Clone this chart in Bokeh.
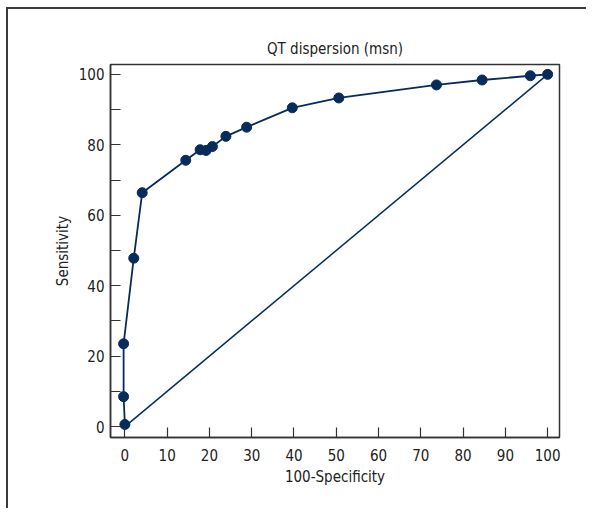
from bokeh.plotting import figure
from bokeh.models import Range1d, FixedTicker
from bokeh.embed import file_html
from bokeh.resources import INLINE

# ROC curve data (100-Specificity, Sensitivity)
fpr = [0.0, -0.3, -0.3, 2.1, 4.1, 14.4, 17.8, 19.2, 20.7, 23.9, 28.8, 39.6, 50.6, 73.7, 84.5, 95.9, 100.0]
tpr = [0.6, 8.5, 23.5, 47.8, 66.4, 75.6, 78.6, 78.4, 79.5, 82.4, 85.0, 90.5, 93.3, 97.0, 98.4, 99.6, 100.0]
diag_x = [0, 100]
diag_y = [0, 100]

x_ticks = [0, 10, 20, 30, 40, 50, 60, 70, 80, 90, 100]
y_ticks = [0, 20, 40, 60, 80, 100]
y_minor = [10, 30, 50, 70, 90]

FONT = "DejaVu Sans Condensed"
NAVY = "#072b5b"
AX = "#333333"

p = figure(width=586, height=508, output_backend="svg", toolbar_location=None,
           x_range=Range1d(-3.4, 102.8), y_range=Range1d(-3.1, 102.8),
           min_border_left=110, min_border_right=27, min_border_top=64, min_border_bottom=71,
           title="QT dispersion (msn)")
p.border_fill_color = None
p.background_fill_color = "#ffffff"
p.styles = {"background-color": "#ffffff",
            "box-shadow": "inset 6px 7px 0 0 #ffffff, inset 8px 9px 0 0 #3a3a3a"}

p.title.align = "center"
p.title.text_font = FONT
p.title.text_font_size = "15px"
p.title.text_font_style = "normal"
p.title.text_color = "#222222"
p.title.standoff = 13

p.grid.visible = False
p.outline_line_color = AX
p.outline_line_width = 1.5
p.outline_line_alpha = 1.0

for ax in (p.xaxis[0], p.yaxis[0]):
    ax.axis_line_color = AX
    ax.axis_line_width = 1.5
    ax.major_tick_line_color = AX
    ax.minor_tick_line_color = AX
    ax.major_tick_line_width = 1.2
    ax.minor_tick_line_width = 1.2
    ax.major_tick_in = 10
    ax.major_tick_out = 0
    ax.minor_tick_in = 10
    ax.minor_tick_out = 0
    ax.major_label_text_font = FONT
    ax.major_label_text_font_size = "15px"
    ax.major_label_text_color = "#222222"
    ax.axis_label_text_font = FONT
    ax.axis_label_text_font_size = "15px"
    ax.axis_label_text_font_style = "normal"
    ax.axis_label_text_color = "#222222"

p.xaxis.ticker = FixedTicker(ticks=x_ticks, minor_ticks=[])
p.yaxis.ticker = FixedTicker(ticks=y_ticks, minor_ticks=y_minor)
p.xaxis.axis_label = "100-Specificity"
p.yaxis.axis_label = "Sensitivity"
p.xaxis.major_label_standoff = 11
p.yaxis.major_label_standoff = 6
p.xaxis.axis_label_standoff = 4
p.yaxis.axis_label_standoff = 4

p.line(diag_x, diag_y, line_color=NAVY, line_width=1.5)
p.line(fpr, tpr, line_color=NAVY, line_width=1.8)
p.scatter(fpr, tpr, size=10, fill_color=NAVY, line_color=NAVY)

open("out.html", "w").write(file_html(p, INLINE))
